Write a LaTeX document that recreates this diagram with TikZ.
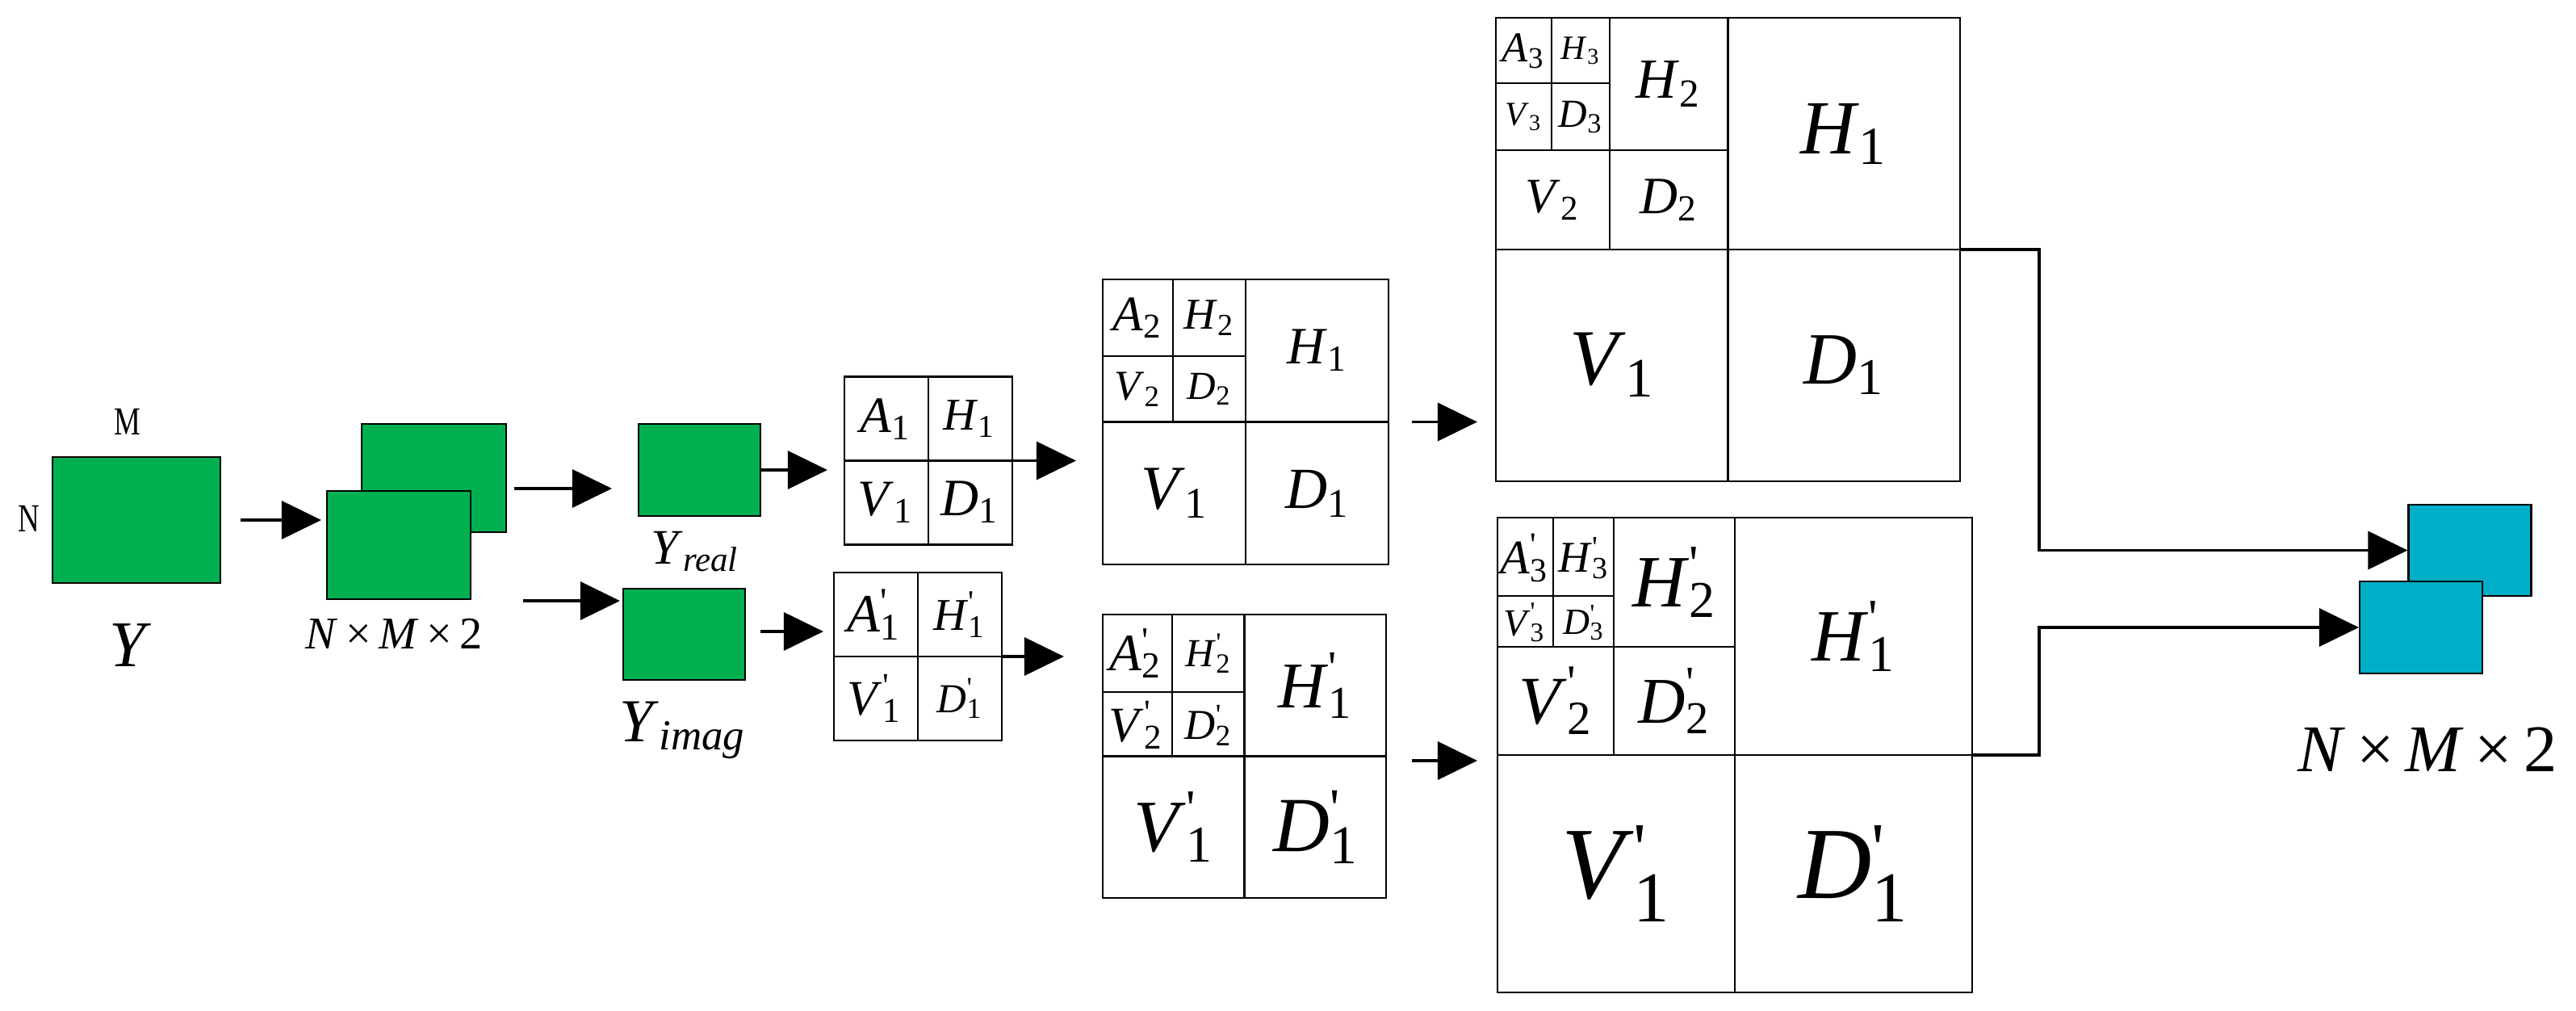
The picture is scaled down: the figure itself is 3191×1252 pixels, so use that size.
\documentclass[tikz,border=0pt]{standalone}
\usepackage{fontspec}
\setmainfont{Liberation Serif}
\usepackage{graphicx}
\usetikzlibrary{arrows.meta}

\definecolor{matgreen}{RGB}{0,176,80}
\definecolor{outblue}{RGB}{0,174,199}

\newcommand{\fsz}[1]{\fontsize{#1}{#1}\selectfont}
\newcommand{\coef}[3]{\textit{#1}\rlap{\textsuperscript{#3}}\textsubscript{#2}}
\newcommand{\pr}{\textquotesingle}

\tikzset{
  mat/.style={draw, line width=0.6pt, fill=matgreen, inner sep=0pt},
  res/.style={draw, line width=0.6pt, fill=outblue, inner sep=0pt},
  wgrid/.style={draw, line width=0.6pt, inner sep=0pt},
  cut/.style={line width=0.6pt},
  arr/.style={line width=1pt, -{Triangle[length=4.9mm, width=4.7mm]}},
  lab/.style={inner sep=0pt},
}

\begin{document}
\begin{tikzpicture}[x=0.1mm, y=-0.1mm]
    \useasboundingbox (0,0) rectangle (3191,1252);

    % input matrix
    \node[mat, minimum width=20.8mm, minimum height=15.6mm] (ybox) at (169,644) {};
    \node[lab, anchor=base] (lblm) at (158,538) {\fsz{14}\scalebox{0.75}[1]{M}};
    \node[lab, anchor=base] (lbln) at (36,658) {\fsz{14}\scalebox{0.75}[1]{N}};
    \node[lab, anchor=base] (lbly) at (162,825) {\fsz{23}\textit{Y}};

    % real and imaginary channels
    \node[mat, minimum width=17.9mm, minimum height=13.4mm] (back) at (537.5,592) {};
    \node[mat, minimum width=17.8mm, minimum height=13.4mm] (front) at (494,675) {};
    \node[lab, anchor=base] (lblstack) at (488,803) {\fsz{16}\textit{N}\,×\,\textit{M}\,×\,2};

    \node[mat, minimum width=15.1mm, minimum height=11.4mm] (yreal) at (866.5,582) {};
    \node[lab, anchor=base] (lblreal) at (861,698) {\fsz{17.5}\textit{Y}\textsubscript{\textit{real}}};
    \node[mat, minimum width=15.1mm, minimum height=11.3mm] (yimag) at (847.5,785.5) {};
    \node[lab, anchor=base] (lblimag) at (846,918) {\fsz{21.5}\textit{Y}\textsubscript{\textit{imag}}};

    % level 1
    \node[wgrid, minimum size=20.8mm] (g1) at (1150,570.5) {};
    \draw[cut] (g1.north) -- (g1.south) (g1.west) -- (g1.east);
    \node[lab] (g1a) at (1097,519) {\fsz{18}\coef{A}{1}{}};
    \node[lab] (g1h) at (1201,519) {\fsz{16}\coef{H}{1}{}};
    \node[lab] (g1v) at (1097,622) {\fsz{18}\coef{V}{1}{}};
    \node[lab] (g1d) at (1201,622) {\fsz{18.5}\coef{D}{1}{}};

    \node[wgrid, minimum size=20.8mm] (g1p) at (1137,813) {};
    \draw[cut] (g1p.north) -- (g1p.south) (g1p.west) -- (g1p.east);
    \node[lab] (g1pa) at (1083,761) {\fsz{19}\coef{A}{1}{\pr}};
    \node[lab] (g1ph) at (1189,761) {\fsz{16}\coef{H}{1}{\pr}};
    \node[lab] (g1pv) at (1083,865) {\fsz{17.5}\coef{V}{1}{\pr}};
    \node[lab] (g1pd) at (1189,865) {\fsz{14.5}\coef{D}{1}{\pr}};

    % level 2
    \node[wgrid, minimum width=35.4mm, minimum height=35.3mm] (g2) at (1543,522.5) {};
    \draw[cut] (g2.north) -- (g2.south) (g2.west) -- (g2.east);
    \draw[cut] (1453,346) -- (1453,522.5) (1366,441) -- (1543,441);
    \node[lab] (g2a) at (1409,394) {\fsz{17.5}\coef{A}{2}{}};
    \node[lab] (g2h2) at (1498,394) {\fsz{15.5}\coef{H}{2}{}};
    \node[lab] (g2v2) at (1409,482) {\fsz{15}\coef{V}{2}{}};
    \node[lab] (g2d2) at (1498,482) {\fsz{14}\coef{D}{2}{}};
    \node[lab] (g2h1) at (1632,434) {\fsz{18.5}\coef{H}{1}{}};
    \node[lab] (g2v1) at (1455,611) {\fsz{22}\coef{V}{1}{}};
    \node[lab] (g2d1) at (1632,611) {\fsz{20.5}\coef{D}{1}{}};

    \node[wgrid, minimum size=35.1mm] (g2p) at (1541.5,936.5) {};
    \draw[cut] (g2p.north) -- (g2p.south) (g2p.west) -- (g2p.east);
    \draw[cut] (1452,761) -- (1452,936.5) (1366,857) -- (1541.5,857);
    \node[lab] (g2pa) at (1407,809) {\fsz{18.5}\coef{A}{2}{\pr}};
    \node[lab] (g2ph2) at (1497,809) {\fsz{14}\coef{H}{2}{\pr}};
    \node[lab] (g2pv2) at (1407,898) {\fsz{17.5}\coef{V}{2}{\pr}};
    \node[lab] (g2pd2) at (1497,898) {\fsz{15}\coef{D}{2}{\pr}};
    \node[lab] (g2ph1) at (1630,849) {\fsz{23}\coef{H}{1}{\pr}};
    \node[lab] (g2pv1) at (1454,1024) {\fsz{26}\coef{V}{1}{\pr}};
    \node[lab] (g2pd1) at (1630,1024) {\fsz{27.5}\coef{D}{1}{\pr}};

    % level 3
    \node[wgrid, minimum width=57.5mm, minimum height=57.4mm] (g3) at (2140.5,309) {};
    \draw[cut] (g3.north) -- (g3.south) (g3.west) -- (g3.east);
    \draw[cut] (1994,22) -- (1994,309) (1853,186) -- (2140.5,186);
    \draw[cut] (1922,22) -- (1922,186) (1853,103) -- (1994,103);
    \node[lab] (g3a) at (1887,63) {\fsz{15}\coef{A}{3}{}};
    \node[lab] (g3h3) at (1958,63) {\fsz{12}\coef{H}{3}{}};
    \node[lab] (g3v3) at (1887,145) {\fsz{12}\coef{V}{3}{}};
    \node[lab] (g3d3) at (1958,145) {\fsz{14}\coef{D}{3}{}};
    \node[lab] (g3h2) at (2067,104) {\fsz{20}\coef{H}{2}{}};
    \node[lab] (g3v2) at (1923,248) {\fsz{17.5}\coef{V}{2}{}};
    \node[lab] (g3d2) at (2067,248) {\fsz{18.5}\coef{D}{2}{}};
    \node[lab] (g3h1) at (2284,166) {\fsz{27}\coef{H}{1}{}};
    \node[lab] (g3v1) at (1997,452) {\fsz{28}\coef{V}{1}{}};
    \node[lab] (g3d1) at (2284,452) {\fsz{26}\coef{D}{1}{}};

    \node[wgrid, minimum size=58.8mm] (g3p) at (2149,935) {};
    \draw[cut] (g3p.north) -- (g3p.south) (g3p.west) -- (g3p.east);
    \draw[cut] (1999,641) -- (1999,935) (1855,801) -- (2149,801);
    \draw[cut] (1924,641) -- (1924,801) (1855,738) -- (1999,738);
    \node[lab] (g3pa) at (1888,691) {\fsz{17}\coef{A}{3}{\pr}};
    \node[lab] (g3ph3) at (1962,691) {\fsz{15.5}\coef{H}{3}{\pr}};
    \node[lab] (g3pv3) at (1888,771) {\fsz{13.5}\coef{V}{3}{\pr}};
    \node[lab] (g3pd3) at (1962,771) {\fsz{13}\coef{D}{3}{\pr}};
    \node[lab] (g3ph2) at (2074,721) {\fsz{26}\coef{H}{2}{\pr}};
    \node[lab] (g3pv2) at (1927,868) {\fsz{24}\coef{V}{2}{\pr}};
    \node[lab] (g3pd2) at (2074,868) {\fsz{23}\coef{D}{2}{\pr}};
    \node[lab] (g3ph1) at (2296,788) {\fsz{26}\coef{H}{1}{\pr}};
    \node[lab] (g3pv1) at (2002,1082) {\fsz{36}\coef{V}{1}{\pr}};
    \node[lab] (g3pd1) at (2296,1082) {\fsz{36}\coef{D}{1}{\pr}};

    % output
    \node[res, minimum width=15.2mm, minimum height=11.3mm] (bback) at (3059.5,681.5) {};
    \node[res, minimum width=15.2mm, minimum height=11.4mm] (bfront) at (2999,777) {};
    \node[lab, anchor=base] (lblout) at (3007,955) {\fsz{23.5}\textit{N}\,×\,\textit{M}\,×\,2};

    % arrows
    \draw[arr, shorten <=2.4mm, shorten >=0.6mm] (ybox.east) -- (ybox.east -| front.west);
    \draw[arr, shorten <=0.9mm, shorten >=3.2mm] ([yshift=-1.3mm]back.east) -- ([yshift=-1.3mm]back.east -| yreal.west);
    \draw[arr, shorten <=6.4mm, shorten >=0.3mm] ([yshift=-0.1mm]front.south east) -- ([yshift=-0.1mm]front.south east -| yimag.west);
    \draw[arr, shorten >=2mm] (yreal.east) -- (yreal.east -| g1.west);
    \draw[arr, shorten >=3.2mm] (g1.east) -- (g1.east -| g2.west);
    \draw[arr, shorten <=1.8mm, shorten >=1.2mm] ([yshift=0.35mm]yimag.east) -- ([yshift=0.35mm]yimag.east -| g1p.west);
    \draw[arr, shorten >=4.7mm] (g1p.east) -- (g1p.east -| g2p.west);
    \draw[arr, shorten <=2.8mm, shorten >=2.2mm] (g2.east) -- (g2.east -| g3.west);
    \draw[arr, shorten <=3.1mm, shorten >=2.4mm] ([yshift=-0.55mm]g2p.east) -- ([yshift=-0.55mm]g2p.east -| g3p.west);

    \coordinate (jx) at (2526,0);
    \draw[arr] (g3.east) -| (jx |- bback.west) -- (bback.west);
    \draw[arr] (g3p.east) -| (jx |- bfront.west) -- (bfront.west);
\end{tikzpicture}
\end{document}
